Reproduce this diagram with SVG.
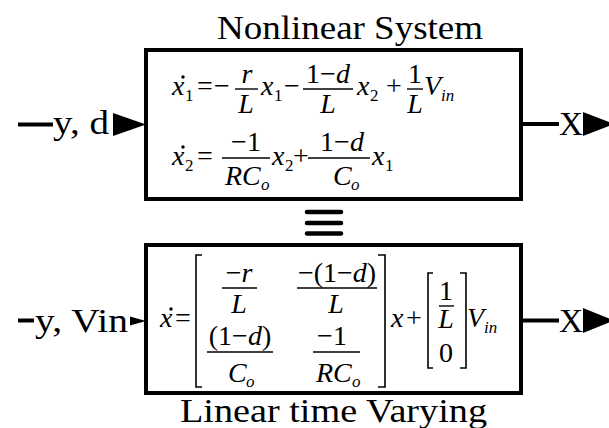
<svg xmlns="http://www.w3.org/2000/svg" width="609" height="428" viewBox="0 0 609 428" font-family="Liberation Serif">
<style>
.box{fill:#fff;stroke:#000;stroke-width:4}
.t{font-size:34px}
.m{font-size:28px}
.i{font-style:italic}
.s{font-size:17px}
.c{text-anchor:middle}
.bar{stroke:#000;stroke-width:1.4;fill:none}
.br{stroke:#000;stroke-width:1.6;fill:none}
.ln{stroke:#000;stroke-width:4;fill:none}
.eq{stroke:#000;stroke-width:4.5;stroke-linecap:round}
</style>
<rect width="609" height="428" fill="#fff"/>

<g id="connectors" font-family="Liberation Serif">
  <line class="ln" x1="18" y1="124.5" x2="53" y2="124.5"/>
  <text class="t" x="53" y="134" textLength="56" lengthAdjust="spacingAndGlyphs">y, d</text>
  <polygon points="113,113 146,124.5 113,136" fill="#000"/>

  <line class="ln" x1="521" y1="124" x2="559" y2="124"/>
  <text class="t" x="559" y="135" textLength="24" lengthAdjust="spacingAndGlyphs">X</text>
  <polygon points="583,112 614,124 583,136" fill="#000"/>

  <line class="ln" x1="18" y1="320.5" x2="34" y2="320.5"/>
  <text class="t" x="35" y="332" textLength="93" lengthAdjust="spacingAndGlyphs">y, Vin</text>
  <polygon points="130,316.5 146,321 130,325.5" fill="#000"/>

  <line class="ln" x1="521" y1="320.5" x2="559" y2="320.5"/>
  <text class="t" x="559" y="332" textLength="24" lengthAdjust="spacingAndGlyphs">X</text>
  <polygon points="583,308 614,320.5 583,333" fill="#000"/>
</g>

<g id="nonlinear" font-family="Liberation Serif">
  <text class="t" x="217" y="39" textLength="266" lengthAdjust="spacingAndGlyphs">Nonlinear System</text>
  <rect class="box" x="146" y="50" width="375" height="149"/>
  <!-- row 1 -->
  <text class="m i" x="172" y="95">x</text>
  <circle cx="183" cy="77" r="1.7"/>
  <text class="m s" x="185" y="101">1</text>
  <text class="m c" x="205" y="95">=</text>
  <text class="m c" x="222" y="95">−</text>
  <text class="m i c" x="247" y="83">r</text>
  <line class="bar" x1="235" y1="89" x2="258" y2="89"/>
  <text class="m i c" x="246" y="113">L</text>
  <text class="m i" x="261" y="95">x</text>
  <text class="m s" x="274" y="101">1</text>
  <text class="m c" x="292" y="95">−</text>
  <text class="m c" x="328" y="83">1−<tspan class="i">d</tspan></text>
  <line class="bar" x1="303" y1="89" x2="353" y2="89"/>
  <text class="m i c" x="328" y="113">L</text>
  <text class="m i" x="357" y="95">x</text>
  <text class="m s" x="370" y="101">2</text>
  <text class="m c" x="394" y="95">+</text>
  <text class="m c" x="415" y="83">1</text>
  <line class="bar" x1="407" y1="89" x2="423" y2="89"/>
  <text class="m i c" x="415" y="113">L</text>
  <text class="m i" x="424" y="95">V</text>
  <text class="m i s" x="441" y="101">in</text>
  <!-- row 2 -->
  <text class="m i" x="172" y="165">x</text>
  <circle cx="183" cy="147" r="1.7"/>
  <text class="m s" x="185" y="171">2</text>
  <text class="m c" x="205" y="165">=</text>
  <text class="m c" x="246" y="151">−1</text>
  <line class="bar" x1="222" y1="158" x2="270" y2="158"/>
  <text class="m i" x="225" y="185">RC</text>
  <text class="m i s" x="261" y="190">o</text>
  <text class="m i" x="272" y="165">x</text>
  <text class="m s" x="285" y="171">2</text>
  <text class="m c" x="301" y="165">+</text>
  <text class="m c" x="342" y="151">1−<tspan class="i">d</tspan></text>
  <line class="bar" x1="308" y1="158" x2="370" y2="158"/>
  <text class="m i" x="333" y="185">C</text>
  <text class="m i s" x="351" y="190">o</text>
  <text class="m i" x="372" y="165">x</text>
  <text class="m s" x="385" y="171">1</text>
</g>

<g id="equiv">
  <line class="eq" x1="307" y1="212" x2="341" y2="212"/>
  <line class="eq" x1="307" y1="223" x2="341" y2="223"/>
  <line class="eq" x1="307" y1="233.5" x2="341" y2="233.5"/>
</g>

<g id="ltv" font-family="Liberation Serif">
  <rect class="box" x="146" y="245" width="375" height="148"/>
  <text class="t" x="180" y="422" textLength="307" lengthAdjust="spacingAndGlyphs">Linear time Varying</text>
  <text class="m i" x="160" y="327">x</text>
  <circle cx="171" cy="309" r="1.7"/>
  <text class="m c" x="183" y="327">=</text>
  <path class="br" d="M202,255 H196 V387 H202"/>
  <text class="m c" x="239" y="282">−<tspan class="i">r</tspan></text>
  <line class="bar" x1="222" y1="288" x2="257" y2="288"/>
  <text class="m i c" x="239" y="313">L</text>
  <text class="m c" x="337" y="282">−(1−<tspan class="i">d</tspan>)</text>
  <line class="bar" x1="297" y1="288" x2="377" y2="288"/>
  <text class="m i c" x="336" y="313">L</text>
  <text class="m c" x="240" y="345">(1−<tspan class="i">d</tspan>)</text>
  <line class="bar" x1="207" y1="352" x2="273" y2="352"/>
  <text class="m i" x="228" y="382">C</text>
  <text class="m i s" x="246" y="387">o</text>
  <text class="m c" x="332" y="345">−1</text>
  <line class="bar" x1="313" y1="352" x2="360" y2="352"/>
  <text class="m i" x="316" y="382">RC</text>
  <text class="m i s" x="352" y="387">o</text>
  <path class="br" d="M378,255 H385 V387 H378"/>
  <text class="m i" x="391" y="327">x</text>
  <text class="m c" x="414" y="327">+</text>
  <path class="br" d="M433,273 H428 V368 H433"/>
  <text class="m c" x="446" y="300">1</text>
  <line class="bar" x1="439" y1="306" x2="454" y2="306"/>
  <text class="m i c" x="446" y="328">L</text>
  <text class="m c" x="446" y="362">0</text>
  <path class="br" d="M460,273 H466 V368 H460"/>
  <text class="m i" x="467" y="327">V</text>
  <text class="m i s" x="484" y="333">in</text>
</g>
</svg>
